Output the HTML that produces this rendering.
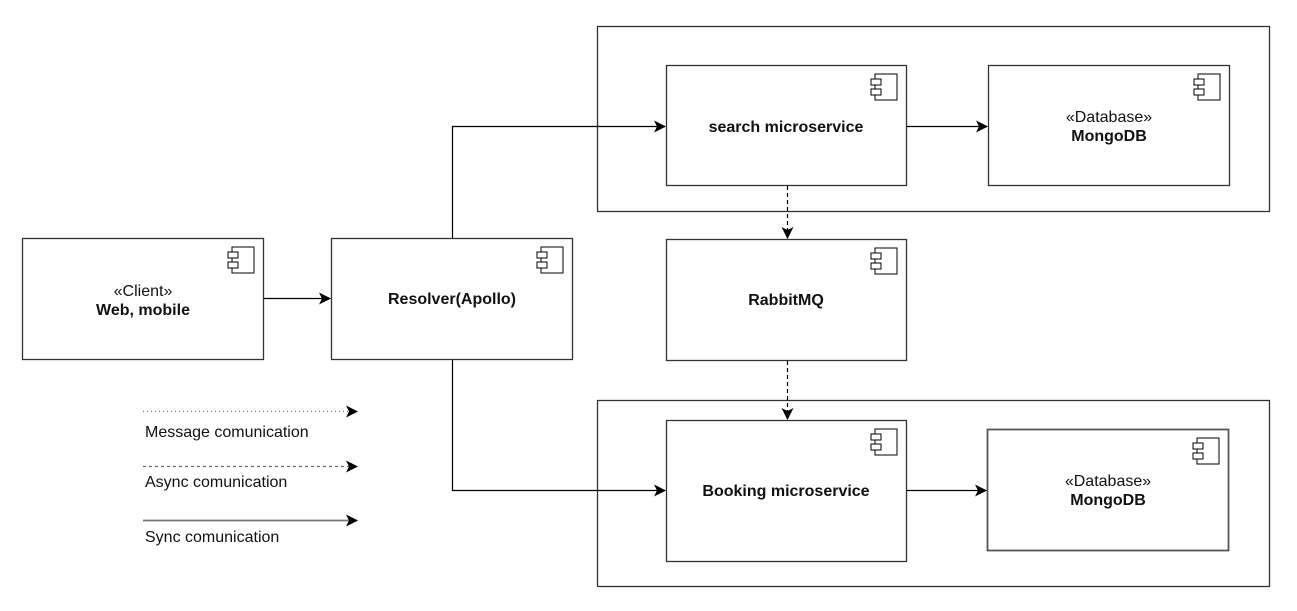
<!DOCTYPE html>
<html><head><meta charset="utf-8"><style>
html,body{margin:0;padding:0;background:#fff;}
svg text{font-family:"Liberation Sans",Arial,sans-serif;font-size:16px;fill:#111;}
.b{font-weight:bold;}
</style></head><body>
<svg width="1297" height="606" viewBox="0 0 1297 606" xmlns="http://www.w3.org/2000/svg">
<defs>
<marker id="ar" markerWidth="13" markerHeight="12" refX="11" refY="6" orient="auto" markerUnits="userSpaceOnUse">
<path d="M0,0 L12,6 L0,12 L3,6 Z" fill="#000"/>
</marker>
<g id="ic">
<rect x="-32" y="9" width="22" height="26" fill="#fff" stroke="#000" stroke-width="1"/>
<rect x="-36" y="14" width="10" height="6" fill="#fff" stroke="#000" stroke-width="1"/>
<rect x="-36" y="24" width="10" height="6" fill="#fff" stroke="#000" stroke-width="1"/>
</g>
</defs>
<g fill="none" stroke="#333" stroke-width="1.3">
<rect x="597.5" y="26.5" width="672" height="185"/>
<rect x="597.5" y="400.5" width="672" height="186"/>
</g>
<g fill="#fff" stroke="#333" stroke-width="1.3">
<rect x="22.5" y="238.5" width="241" height="121"/>
<rect x="331.5" y="238.5" width="241" height="121"/>
<rect x="666.5" y="65.5" width="240" height="120"/>
<rect x="988.5" y="65.5" width="241" height="120"/>
<rect x="666.5" y="239.5" width="240" height="121"/>
<rect x="666.5" y="420.5" width="240" height="141"/>
<rect x="987.5" y="429.5" width="241" height="121" stroke="#555" stroke-width="1.8"/>
</g>
<use href="#ic" x="264" y="238"/>
<use href="#ic" x="573" y="238"/>
<use href="#ic" x="907" y="65"/>
<use href="#ic" x="1230" y="65"/>
<use href="#ic" x="907" y="239"/>
<use href="#ic" x="907" y="420"/>
<use href="#ic" x="1229" y="429"/>
<g fill="none" stroke="#000" stroke-width="1.2">
<path d="M264,298.5 H330" marker-end="url(#ar)"/>
<path d="M452.5,238 V126.5 H665" marker-end="url(#ar)"/>
<path d="M452.5,360 V490.5 H665" marker-end="url(#ar)"/>
<path d="M907,126.5 H987" marker-end="url(#ar)"/>
<path d="M907,490.5 H986" marker-end="url(#ar)"/>
<path d="M787.5,186 V238" stroke-dasharray="4,3" marker-end="url(#ar)"/>
<path d="M787.5,361 V419" stroke-dasharray="4,3" marker-end="url(#ar)"/>
<path d="M143,411.5 H357" stroke="#777" stroke-dasharray="1,3" marker-end="url(#ar)"/>
<path d="M143,466.5 H357" stroke="#666" stroke-dasharray="3,3" marker-end="url(#ar)"/>
<path d="M143,520.5 H357" stroke="#777" stroke-width="1.8" marker-end="url(#ar)"/>
</g>
<text x="145" y="437">Message comunication</text>
<text x="145" y="487">Async comunication</text>
<text x="145" y="542">Sync comunication</text>
<text x="143" y="296" text-anchor="middle">«Client»</text>
<text x="143" y="315" text-anchor="middle" class="b">Web, mobile</text>
<text x="452" y="304" text-anchor="middle" class="b">Resolver(Apollo)</text>
<text x="786" y="132" text-anchor="middle" class="b">search microservice</text>
<text x="1109" y="122" text-anchor="middle">«Database»</text>
<text x="1109" y="141" text-anchor="middle" class="b">MongoDB</text>
<text x="786" y="305" text-anchor="middle" class="b">RabbitMQ</text>
<text x="786" y="496" text-anchor="middle" class="b">Booking microservice</text>
<text x="1108" y="486" text-anchor="middle">«Database»</text>
<text x="1108" y="505" text-anchor="middle" class="b">MongoDB</text>
</svg>
</body></html>
